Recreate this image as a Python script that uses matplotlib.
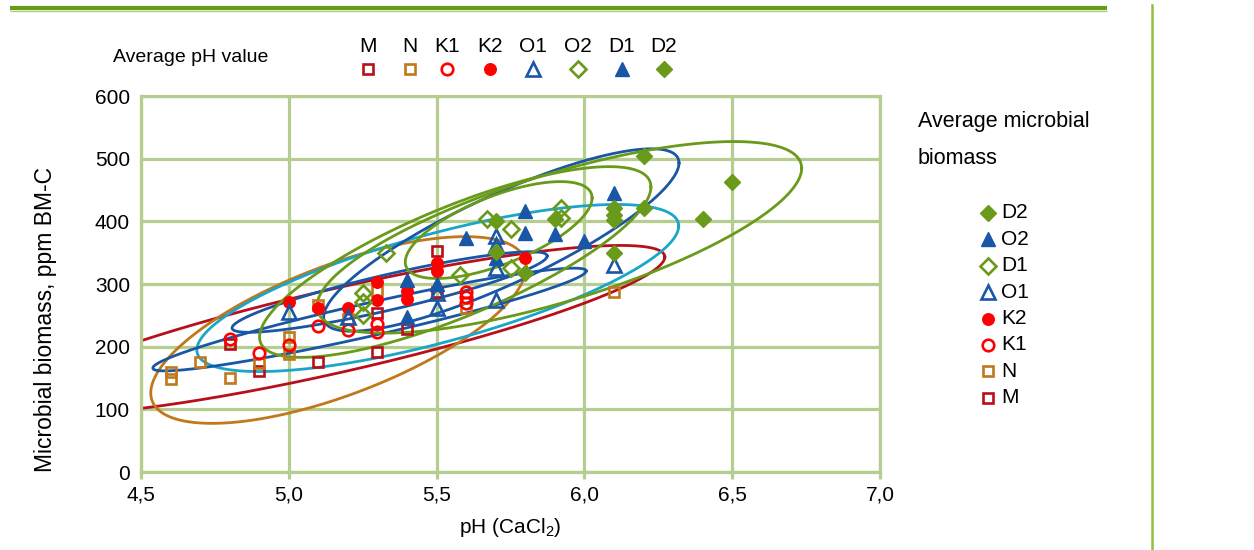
import numpy as np
import matplotlib
matplotlib.use("Agg")
import matplotlib.pyplot as plt
from matplotlib.ticker import FuncFormatter

plt.rcParams['font.family'] = ['Liberation Sans', 'DejaVu Sans']
plt.rcParams['mathtext.default'] = 'regular'

# ---------------- data ----------------
groups = ['M', 'N', 'K1', 'K2', 'O1', 'O2', 'D1', 'D2']

M_ph = [4.8, 4.9, 5.1, 5.3, 5.3, 5.4, 5.5, 5.5]
M_bm = [205, 161, 176, 254, 191, 228, 353, 288]

N_ph = [4.6, 4.6, 4.7, 4.8, 4.9, 5.0, 5.0, 5.1, 5.2, 5.3, 5.6, 6.1]
N_bm = [159, 148, 175, 150, 174, 216, 189, 267, 244, 289, 261, 288]

K1_ph = [4.8, 4.9, 5.0, 5.1, 5.2, 5.3, 5.3, 5.6, 5.6, 5.6]
K1_bm = [213, 190, 202, 233, 227, 236, 224, 288, 279, 270]

K2_ph = [5.0, 5.1, 5.2, 5.3, 5.3, 5.4, 5.4, 5.5, 5.5, 5.8]
K2_bm = [272, 261, 262, 303, 274, 289, 276, 334, 321, 341]

O1_ph = [5.0, 5.2, 5.5, 5.5, 5.7, 5.7, 5.7, 5.7, 6.1]
O1_bm = [255, 248, 285, 261, 376, 362, 325, 275, 330]

O2_ph = [5.4, 5.4, 5.5, 5.6, 5.7, 5.8, 5.8, 5.9, 6.0, 6.1]
O2_bm = [306, 247, 300, 373, 341, 417, 382, 380, 369, 446]

D1_ph = [5.25, 5.25, 5.25, 5.33, 5.58, 5.67, 5.75, 5.75, 5.92, 5.92]
D1_bm = [286, 272, 250, 349, 314, 404, 388, 326, 421, 405]

D2_ph = [5.7, 5.7, 5.8, 5.9, 6.1, 6.1, 6.1, 6.1, 6.2, 6.2, 6.4, 6.5]
D2_bm = [400, 351, 317, 403, 421, 410, 402, 350, 504, 422, 404, 462]

# ellipses: centre, half-diameter vector to the right tip, vertical half-chord
ell_names = ['M', 'N', 'O1', 'K2', 'K1', 'O2', 'D1', 'D2a', 'D2']
ell_cx = [5.172, 5.168, 5.504, 5.341, 5.273, 5.719, 5.710, 5.563, 5.915]
ell_cy = [226.6, 226.6, 293.6, 287.2, 243.3, 370.2, 386.1, 335.1, 374.5]
ell_ux = [1.100, 0.635, 0.815, 0.533, 0.733, 0.601, 0.316, 0.662, 0.820]
ell_uy = [116.5, 100.5, 98.9, 57.4, 77.4, 122.9, 51.1, 119.7, 110.1]
ell_v = [68.1, 110.0, 89.4, 29.0, 27.0, 78.0, 58.0, 94.0, 106.0]

x_ticks = [4.5, 5.0, 5.5, 6.0, 6.5, 7.0]
y_ticks = [0, 100, 200, 300, 400, 500, 600]

# ---------------- styles ----------------
DRED = '#B8101A'
BROWN = '#C0781A'
RED = '#FF0000'
BLUE = '#1A56A6'
CYAN = '#1AA6C8'
GREEN = '#6A9A1A'
GRID = '#B5CD8F'

style = {
    'M': dict(marker='s', mfc='none', mec=DRED, ms=7.3, mew=1.9),
    'N': dict(marker='s', mfc='none', mec=BROWN, ms=7.3, mew=1.9),
    'K1': dict(marker='o', mfc='none', mec=RED, ms=8.3, mew=1.9),
    'K2': dict(marker='o', mfc=RED, mec=RED, ms=8.3, mew=1.0),
    'O1': dict(marker='^', mfc='none', mec=BLUE, ms=9.8, mew=1.9),
    'O2': dict(marker='^', mfc=BLUE, mec=BLUE, ms=9.8, mew=1.0),
    'D1': dict(marker='D', mfc='none', mec=GREEN, ms=7.8, mew=1.9),
    'D2': dict(marker='D', mfc=GREEN, mec=GREEN, ms=7.8, mew=1.0),
}
ell_color = {'M': DRED, 'N': BROWN, 'O1': CYAN, 'K2': BLUE, 'K1': BLUE,
             'O2': BLUE, 'D1': GREEN, 'D2a': GREEN, 'D2': GREEN}

data = {'M': (M_ph, M_bm), 'N': (N_ph, N_bm), 'K1': (K1_ph, K1_bm),
        'K2': (K2_ph, K2_bm), 'O1': (O1_ph, O1_bm), 'O2': (O2_ph, O2_bm),
        'D1': (D1_ph, D1_bm), 'D2': (D2_ph, D2_bm)}

W, H = 1254, 550
fig = plt.figure(figsize=(W / 100, H / 100), dpi=100)
fig.patch.set_facecolor('white')

ax = fig.add_axes([141 / W, 1 - 472 / H, (880 - 141) / W, (472 - 96) / H])
ax.set_xlim(4.5, 7.0)
ax.set_ylim(0, 600)
ax.set_xticks(x_ticks)
ax.set_yticks(y_ticks)
ax.xaxis.set_major_formatter(FuncFormatter(lambda v, p: f'{v:.1f}'.replace('.', ',')))
ax.grid(True, color=GRID, lw=2.3, zorder=0)
ax.set_axisbelow(True)
for s in ax.spines.values():
    s.set_color(GRID)
    s.set_linewidth(2.3)
ax.tick_params(axis='x', length=5, width=2.3, color=GRID, labelsize=15, pad=5)
ax.tick_params(axis='y', length=0, labelsize=15, pad=8)

t = np.linspace(0, 2 * np.pi, 500)
for i, name in enumerate(ell_names):
    ex = ell_cx[i] + ell_ux[i] * np.cos(t)
    ey = ell_cy[i] + ell_uy[i] * np.cos(t) + ell_v[i] * np.sin(t)
    ax.plot(ex, ey, color=ell_color[name], lw=2.0, zorder=2)

for g in groups:
    xs, ys = data[g]
    ax.plot(xs, ys, ls='none', zorder=3, **style[g])

ax.set_xlabel('pH (CaCl$_2$)', fontsize=15, labelpad=8)
ax.set_ylabel('Microbial biomass, ppm BM-C', fontsize=16.5)
ax.yaxis.set_label_coords((57 - 141) / 739, (472 - 319) / 376)

# ---------------- overlay for legends / frame lines ----------------
ov = fig.add_axes([0, 0, 1, 1], zorder=5)
ov.set_xlim(0, W)
ov.set_ylim(H, 0)
ov.axis('off')
ov.patch.set_alpha(0)

ov.plot([10, 1107], [8, 8], color=GREEN, lw=3.0, solid_capstyle='butt')
ov.plot([10, 1107], [10.5, 10.5], color='#A9D070', lw=1.0, solid_capstyle='butt')
ov.plot([1152, 1152], [5, 550], color='#8DC043', lw=1.8)

ov.text(113, 57, 'Average pH value', fontsize=14, va='center', ha='left')
top_x = [368, 410, 447, 490, 533, 578, 622, 664]
top_markers = ['M', 'N', 'K1', 'K2', 'O1', 'D1', 'O2', 'D2']
for xx, lab, mk in zip(top_x, groups, top_markers):
    ov.text(xx, 47, lab, fontsize=15, ha='center', va='center')
    ov.plot([xx], [69], ls='none', **style[mk])

ov.text(918, 121, 'Average microbial', fontsize=15.5, ha='left', va='center')
ov.text(918, 158, 'biomass', fontsize=15.5, ha='left', va='center')
right_order = ['D2', 'O2', 'D1', 'O1', 'K2', 'K1', 'N', 'M']
for k, g in enumerate(right_order):
    yy = 213 + k * 26.4
    ov.plot([988], [yy], ls='none', **style[g])
    ov.text(1001, yy, g, fontsize=15, ha='left', va='center')

fig.savefig('out.png', dpi=100, facecolor='white')
